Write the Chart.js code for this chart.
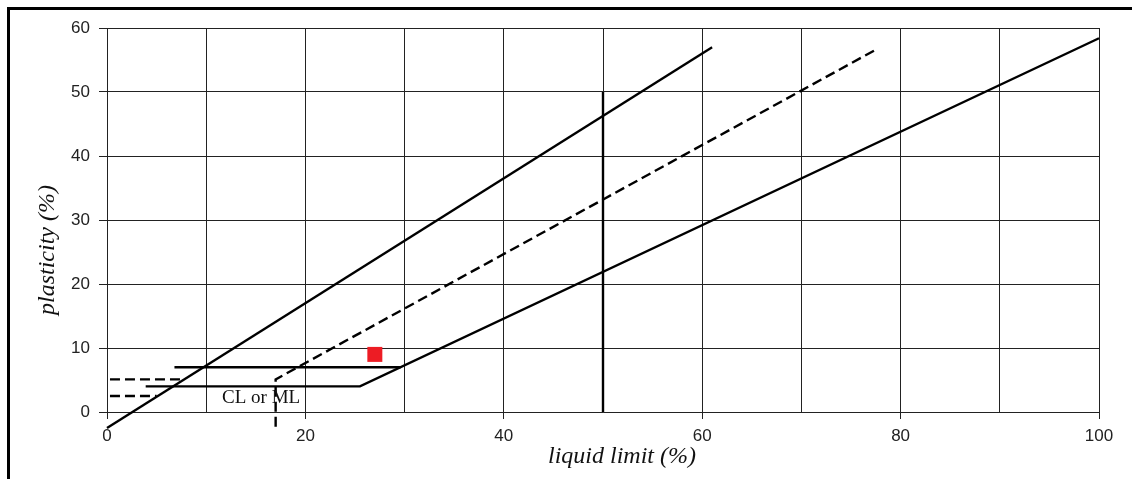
<!DOCTYPE html>
<html>
<head>
<meta charset="utf-8">
<script src="https://cdn.jsdelivr.net/npm/chart.js@4.4.0/dist/chart.umd.min.js"></script>
<style>
  html, body { margin: 0; padding: 0; background: #fff; }
  #wrap { position: relative; width: 1132px; height: 479px; }
  #frame { position: absolute; left: 7px; top: 7px; right: 0; bottom: 0; border-top: 3px solid #000; border-left: 3px solid #000; pointer-events: none; }
</style>
</head>
<body>
<div id="wrap">
  <canvas id="chart" width="1132" height="479"></canvas>
  <div id="frame"></div>
</div>
<script>
// plasticity chart lines, [liquid limit, plasticity index]
const uLine = [[0, -2.5], [61, 57]];
const aLine = [[3.9, 4], [25.5, 4], [100, 58.4]];
const stepLine = [[6.8, 7], [29.6, 7]];
const dashLine = [[17, -2.3], [17, 5.1], [77.6, 56.7]];
const leftDashHigh = [[0.3, 5.1], [7.4, 5.1]];
const leftDashLow = [[0.3, 2.5], [5, 2.5]];
const bLine = [[50, 0], [50, 50]];
const sample = [[27, 9]];

const xLabelled = [0, 20, 40, 60, 80, 100];
const regionLabel = 'CL or ML';
const regionPos = [11.6, 1.4];
const xTitle = 'liquid limit (%)';
const yTitle = 'plasticity (%)';

const toXY = pts => pts.map(([x, y]) => ({ x, y }));

const line = (pts, dash) => ({
  data: toXY(pts),
  showLine: true,
  borderColor: '#000',
  borderWidth: 2.4,
  borderDash: dash ? [10, 5] : [],
  pointRadius: 0,
  tension: 0,
  clip: false,
});

const textPlugin = {
  id: 'texts',
  afterDatasetsDraw(chart) {
    const { ctx, chartArea, scales: { x, y } } = chart;
    ctx.save();
    ctx.fillStyle = '#111';
    ctx.textBaseline = 'alphabetic';
    ctx.font = '19px "Liberation Serif"';
    ctx.textAlign = 'left';
    ctx.fillText(regionLabel, x.getPixelForValue(regionPos[0]), y.getPixelForValue(regionPos[1]));

    ctx.font = 'italic 24px "Liberation Serif"';
    ctx.textAlign = 'center';
    ctx.fillText(xTitle, chartArea.left + 515, chartArea.bottom + 51);

    ctx.translate(chartArea.left - 53, chartArea.top + 222);
    ctx.rotate(-Math.PI / 2);
    ctx.fillText(yTitle, 0, 0);
    ctx.restore();
  }
};

const ctx = document.getElementById('chart').getContext('2d');
new Chart(ctx, {
  type: 'scatter',
  data: {
    datasets: [
      line(uLine),
      line(aLine),
      line(stepLine),
      line(dashLine, true),
      line(leftDashHigh, true),
      line(leftDashLow, true),
      line(bLine),
      {
        data: toXY(sample),
        pointStyle: 'rect',
        pointRadius: 10.6,
        backgroundColor: '#ED1C24',
        borderWidth: 0,
        clip: false,
      },
    ],
  },
  options: {
    responsive: false,
    animation: false,
    devicePixelRatio: 1,
    layout: { padding: { top: 28, right: 33, left: 0, bottom: 0 } },
    plugins: { legend: { display: false }, tooltip: { enabled: false } },
    scales: {
      x: {
        type: 'linear',
        min: 0,
        max: 100,
        ticks: {
          stepSize: 10,
          autoSkip: false,
          maxRotation: 0,
          padding: 7,
          color: '#222',
          font: { family: 'Liberation Sans', size: 17 },
          callback: v => (xLabelled.includes(v) ? String(v) : ''),
        },
        grid: {
          color: '#222',
          lineWidth: 1,
          tickLength: 7,
          tickColor: c => (c.tick && xLabelled.includes(c.tick.value) ? '#222' : 'rgba(0,0,0,0)'),
        },
        border: { color: '#222', width: 1 },
        afterFit: s => { s.height = 67; },
      },
      y: {
        min: 0,
        max: 60,
        ticks: {
          stepSize: 10,
          padding: 9,
          color: '#222',
          font: { family: 'Liberation Sans', size: 17 },
        },
        grid: { color: '#222', lineWidth: 1, tickLength: 8 },
        border: { color: '#222', width: 1 },
        afterFit: s => { s.width = 107; },
      },
    },
  },
  plugins: [textPlugin],
});
</script>
</body>
</html>
